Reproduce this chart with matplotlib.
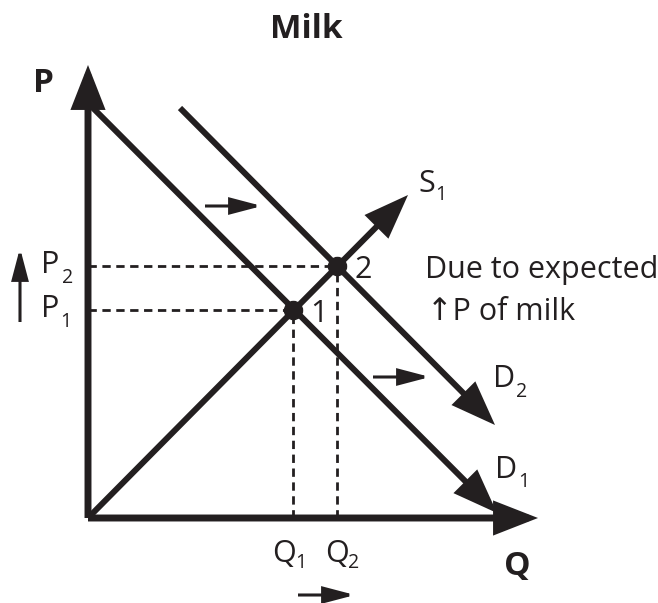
import matplotlib
matplotlib.use("Agg")
import matplotlib.pyplot as plt
from matplotlib.patches import FancyArrowPatch

plt.rcParams["font.family"] = ["Open Sans", "DejaVu Sans"]

# =========================================================
# Diagram data (Q to the right, P up, origin at the axes corner)
# =========================================================

TITLE = "Milk"

Q_AXIS_END = 450
P_AXIS_END = 453

D1_Q = [0, 409]
D1_P = [415, 5]
D2_Q = [92, 407]
D2_P = [410, 93]
S1_Q = [0, 320]
S1_P = [0, 323]

EQ_Q = [205, 249]
EQ_P = [208, 252]
EQ_NAMES = ["1", "2"]

# shift arrows: (q start, q end, p)
DEMAND_SHIFTS = [(117, 174, 312), (285, 342, 141)]
Q_SHIFT = (210, 267, -77)
P_SHIFT = (-68, 196, 270)

NOTE_LINES = ["Due to expected", "\u2191P of milk"]

INK = "#231f20"


def arrow(ax, a, b, lw, hl, hw):
    ax.add_patch(FancyArrowPatch(
        a, b,
        arrowstyle=f"-|>,head_length={hl},head_width={hw}",
        mutation_scale=1, lw=lw, color=INK,
        shrinkA=0, shrinkB=0, joinstyle="miter", capstyle="butt",
    ))


def label(ax, x, y, main, sub, sub_dx, sub_dy, size=22):
    ax.text(x, y, main, fontsize=size, color=INK, ha="left", va="baseline")
    ax.text(x + sub_dx, y - sub_dy, sub, fontsize=size * 0.64,
            color=INK, ha="left", va="baseline")


fig = plt.figure(figsize=(6.58, 6.03), dpi=100)
ax = fig.add_axes([0, 0, 1, 1])
ax.set_xlim(-88, 570)
ax.set_ylim(-85, 518)
ax.axis("off")

# axes
arrow(ax, (0, 0), (Q_AXIS_END, 0), 5, 23, 9)
arrow(ax, (0, 0), (0, P_AXIS_END), 5, 23, 9)

# curves
arrow(ax, (D1_Q[0], D1_P[0]), (D1_Q[1], D1_P[1]), 4.3, 24, 9)
arrow(ax, (D2_Q[0], D2_P[0]), (D2_Q[1], D2_P[1]), 4.3, 24, 9)
arrow(ax, (S1_Q[0], S1_P[0]), (S1_Q[1], S1_P[1]), 4.3, 24, 9)

# guide lines
for q, p in zip(EQ_Q, EQ_P):
    ax.plot([0, q], [p, p], color=INK, lw=2, ls=(0, (3, 2)), zorder=1)
    ax.plot([q, q], [0, p], color=INK, lw=2, ls=(0, (3, 2)), zorder=1)

ax.plot(EQ_Q, EQ_P, "o", color=INK, ms=13, zorder=5)
for q, p, name in zip(EQ_Q, EQ_P, EQ_NAMES):
    ax.text(q + 17, p - 12, name, fontsize=22, color=INK,
            ha="left", va="baseline")

# shift arrows
for q0, q1, p in DEMAND_SHIFTS:
    arrow(ax, (q0, p), (q1, p), 2.2, 19, 5)
arrow(ax, (Q_SHIFT[0], Q_SHIFT[2]), (Q_SHIFT[1], Q_SHIFT[2]), 2.2, 19, 5)
arrow(ax, (P_SHIFT[0], P_SHIFT[1]), (P_SHIFT[0], P_SHIFT[2]), 2.2, 19, 5)

# text
ax.text(218, 480, TITLE, fontsize=24, fontweight="bold", color=INK,
        ha="center", va="baseline")
ax.text(-44, 426, "P", fontsize=24, fontweight="bold", color=INK,
        ha="center", va="baseline")
ax.text(429, -57, "Q", fontsize=24, fontweight="bold", color=INK,
        ha="center", va="baseline")

label(ax, -47, 245, "P", "2", 21, 10)
label(ax, -47, 201, "P", "1", 19, 10)
label(ax, 184, -44, "Q", "1", 23, 6)
label(ax, 237, -44, "Q", "2", 23, 6)
label(ax, 330, 326, "S", "1", 17, 8)
label(ax, 405, 131, "D", "2", 23, 10)
label(ax, 407, 40, "D", "1", 23, 9)

ax.text(337, 240, NOTE_LINES[0], fontsize=22, color=INK,
        ha="left", va="baseline")
ax.text(339, 198, NOTE_LINES[1], fontsize=22, color=INK,
        ha="left", va="baseline")

fig.savefig("out.png", dpi=100)
